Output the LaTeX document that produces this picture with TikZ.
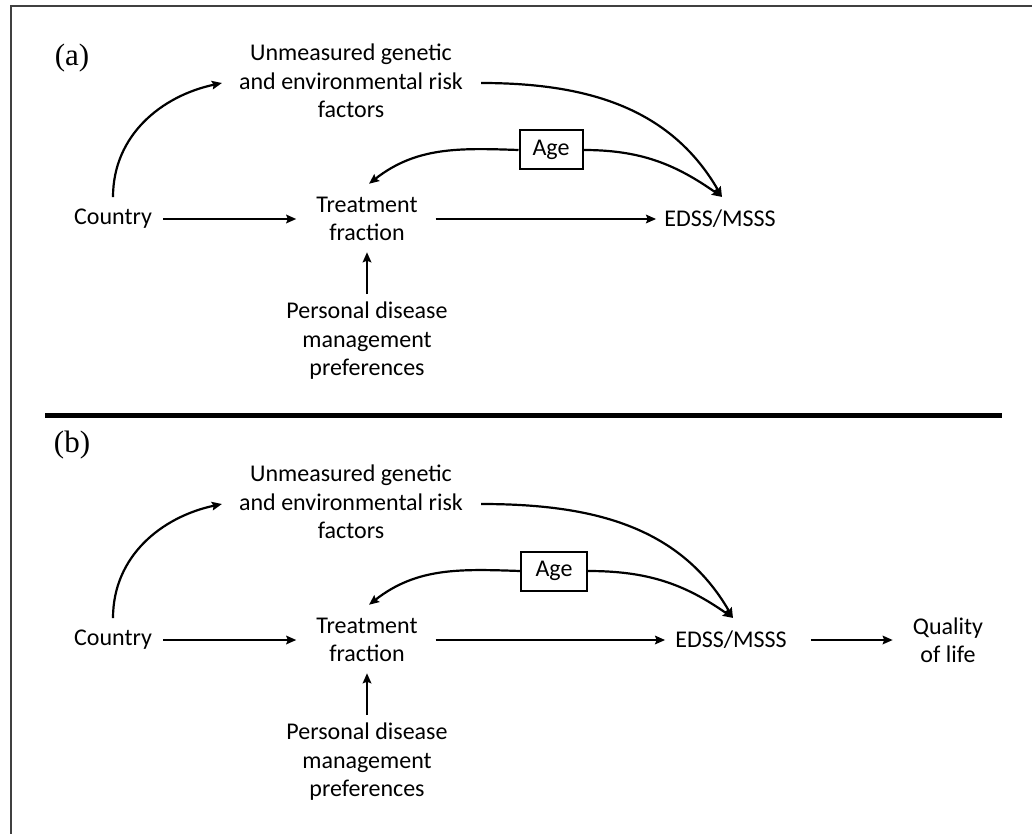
\documentclass[tikz,border=0pt]{standalone}
\usepackage{fontspec}
\setmainfont{Carlito}
\newfontfamily\lblfont{Liberation Serif}
\usetikzlibrary{arrows.meta}
\begin{document}
\begin{tikzpicture}[x=1pt,y=1pt,
  txt/.style={font=\fontsize{24}{28.5}\selectfont, align=center, inner sep=0pt},
  agebox/.style={draw, line width=2pt, minimum height=39pt, inner sep=0pt, font=\fontsize{24}{28.5}\selectfont},
  arr/.style={line width=2.2pt, -{Stealth[length=10pt,width=8.5pt,inset=1.5pt]}},
  panel/.style={font=\lblfont\fontsize{31}{33}\selectfont, inner sep=0pt},
  framel/.style={line width=1.6pt, draw=black!75},
  sep/.style={line width=5pt}]
\fill[white] (0,0) rectangle (1032,-834);
\useasboundingbox (0,0) rectangle (1032,-834);
% frame
\draw[framel] (10,-6) -- (1032,-6);
\draw[framel] (11,-6) -- (11,-834);
\draw[sep] (45,-415) -- (1002,-415);

% ---------- panel (a)
\node[panel] (la) at (72,-58) {(a)};
\node[txt] (ua) at (351,-81) {Unmeasured genetic\\and environmental risk\\factors};
\node[txt] (ca) at (113,-219) {Country};
\node[txt] (ta) at (367,-219) {Treatment\\fraction};
\node[txt] (pa) at (367,-341) {Personal disease\\management\\preferences};
\node[txt] (ea) at (720,-219) {EDSS/MSSS};
\node[agebox, minimum width=63pt] (aa) at (551,-150) {Age};

\draw[arr] ([xshift=11pt]ca.east) -- ([xshift=-20pt]ta.west);
\draw[arr] ([xshift=18pt]ta.east) -- ([xshift=-8pt]ea.west);
\draw[arr] ([yshift=8pt]pa.north) -- ([yshift=-11pt]ta.south);
\draw[arr] ([yshift=12pt]ca.north) to[out=90,in=192] ([xshift=-17pt,yshift=-2pt]ua.west);
\draw[arr] (aa.west) to[out=178,in=38] ([xshift=2pt,yshift=13pt]ta.north);
\draw[arr] (aa.east) to[out=0,in=145] ([xshift=2pt,yshift=13pt]ea.north);
\draw[arr] ([xshift=18pt,yshift=-2pt]ua.east) to[out=0,in=120] ([xshift=2pt,yshift=13pt]ea.north);

% ---------- panel (b)
\node[panel] (lb) at (72,-445) {(b)};
\node[txt] (ub) at (351,-502) {Unmeasured genetic\\and environmental risk\\factors};
\node[txt] (cb) at (113,-640) {Country};
\node[txt] (tb) at (367,-640) {Treatment\\fraction};
\node[txt] (pb) at (367,-762) {Personal disease\\management\\preferences};
\node[txt] (eb) at (731,-640) {EDSS/MSSS};
\node[txt] (qb) at (948,-640) {Quality\\of life};
\node[agebox, minimum width=66pt] (ab) at (554,-571) {Age};

\draw[arr] ([xshift=11pt]cb.east) -- ([xshift=-20pt]tb.west);
\draw[arr] ([xshift=18pt]tb.east) -- ([xshift=-10pt]eb.west);
\draw[arr] ([xshift=24pt]eb.east) -- ([xshift=-20pt]qb.west);
\draw[arr] ([yshift=8pt]pb.north) -- ([yshift=-11pt]tb.south);
\draw[arr] ([yshift=12pt]cb.north) to[out=90,in=192] ([xshift=-17pt,yshift=-2pt]ub.west);
\draw[arr] (ab.west) to[out=178,in=38] ([xshift=2pt,yshift=13pt]tb.north);
\draw[arr] (ab.east) to[out=0,in=145] ([xshift=2pt,yshift=13pt]eb.north);
\draw[arr] ([xshift=18pt,yshift=-2pt]ub.east) to[out=0,in=120] ([xshift=2pt,yshift=13pt]eb.north);
\end{tikzpicture}
\end{document}
